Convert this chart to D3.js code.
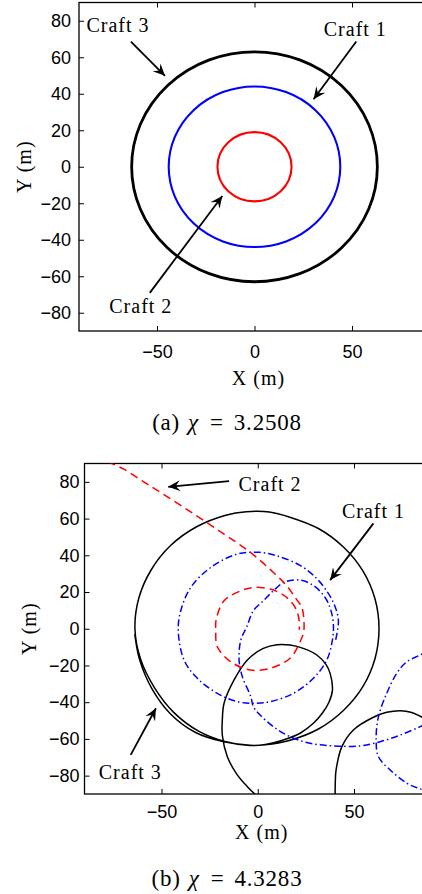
<!DOCTYPE html>
<html>
<head>
<meta charset="utf-8">
<script src="https://cdn.jsdelivr.net/npm/d3@7"></script>
<style>
  body { margin: 0; background: #fff; }
  .tick text { font-family: "Liberation Sans", Arial, sans-serif; font-size: 18px; fill: #000; }
  .lbl { font-family: "Liberation Serif", "Times New Roman", serif; font-size: 20px; letter-spacing: 1px; fill: #000; }
  .cap { font-family: "Liberation Serif", "Times New Roman", serif; font-size: 23px; letter-spacing: 0.8px; fill: #000; }
</style>
</head>
<body>
<svg id="fig" width="422" height="894"></svg>
<script>
const xTicks = [-50, 0, 50];
const yTicks = [-80, -60, -40, -20, 0, 20, 40, 60, 80];

// (a) chi = 3.2508 : every craft settles on a circle round the origin
const craftsA = ['Craft 1', 'Craft 2', 'Craft 3'];
const radiusA = [44, 19, 63];
const labelA = ['Craft 3', 'Craft 1', 'Craft 2'];
const labelAtA = [[-70, 74], [51.7, 71.8], [-58.3, -80.4]];
const arrowFromA = [[-63.4, 68.6], [52.2, 68.6], [-53.7, -69.1]];
const arrowToA = [[-45.9, 49.8], [30.3, 37], [-16.5, -16]];

// (b) chi = 4.3283 : trajectories, [x, y] in metres
const craft1B = [[40.5, -6], [41.9, 4.4], [40, 12.5], [36.5, 19.5], [30.5, 27.5], [22, 34.5], [10, 39.7],
  [1, 41.6], [-10.6, 40.7], [-24.4, 33.4], [-34.8, 22.5], [-40, 9.8], [-41.3, -1], [-38.3, -17],
  [-31.4, -27], [-21, -35.2], [-10.6, -39.7], [-1.9, -40.6], [6.4, -39.7], [18.5, -35.2], [28.9, -27],
  [35.9, -17], [38.8, -6], [39.3, 2], [38, 10], [35, 17], [29, 23.5], [22, 26.5], [14, 25.5], [8.1, 20.7],
  [2.9, 15.2], [-2.3, 9.8], [-5.7, 1.1], [-8.8, -6.1], [-9.7, -17], [-8, -26.1], [-3.6, -37],
  [-2.3, -42.4], [1.2, -47], [8.1, -53.3], [16.8, -58.8], [27.2, -62.4], [39.3, -63.8], [53.2, -63.8],
  [63.6, -61.5], [74, -57.9], [84.4, -53.3], [90, -50.5]];
const craft1BTail = [[90, -11], [84.4, -14.3], [77.4, -18], [72.2, -24.3], [67, -35.2], [62.7, -47.9],
  [61.5, -60.6], [62.7, -69.7], [68.8, -76.9], [77.4, -84.1], [83.5, -86.9], [90, -89]];
const craft2B = [[-78, 91], [-69.5, 86.9], [-60, 80.5], [-50.4, 74.2], [-33.1, 62.4], [-17.5, 51.5],
  [-3.8, 41.6], [9, 29.8], [15, 23.5], [19.4, 17.1], [22.9, 11.6], [24, 4], [23.8, -2], [21.6, -8],
  [16.8, -16.1], [6.4, -21.6], [-3.8, -22.5], [-14, -18], [-21, -9.8], [-21.8, -0.7], [-21.6, 5],
  [-17.5, 15.2], [-8.8, 20.7], [-2, 22.5], [6.4, 21.6], [13, 18.6], [17.5, 14.5], [20.3, 9.8],
  [21.5, 4.4], [21.6, -0.5]];
const craft3B = [[-0.5, -91], [-5.4, -86], [-11, -79], [-15.8, -69.7], [-18.4, -58], [-18.4, -49.7],
  [-17.5, -40.6], [-12.3, -27.9], [-5.4, -17], [2.9, -10.7], [10, -8.7], [16.8, -8.9], [24, -10.8],
  [30.7, -14.3], [35.5, -19.5], [37.6, -24.3], [38.8, -33.4], [37, -40], [33.5, -46], [28.9, -51.5],
  [22, -56.9], [12, -61], [4, -63], [-4, -63.6], [-17, -61.4], [-31, -55.6], [-43.8, -45.4],
  [-53.6, -32.2], [-60.8, -16.8], [-63.8, 0], [-61.8, 16.6], [-55.4, 32], [-45.3, 45.3], [-32, 55.4],
  [-16.6, 61.8], [-6, 63.7], [6, 63.6], [16.3, 60.9], [31.5, 54.6], [44.5, 44.5], [54.6, 31.5],
  [60.9, 16.3], [63, 0], [60.9, -16.3], [54.6, -31.5], [44.5, -44.5], [31.5, -54.6], [16.3, -60.9],
  [4, -63.2], [-4, -63.5], [-17.5, -61.6], [-32.3, -56.5], [-45.3, -46.4], [-55, -32.6], [-61.4, -16.8],
  [-63.9, -3]];
const craft3BTail = [[40.2, -91], [40.3, -83], [40.7, -76.9], [43.7, -64.2], [49.7, -55.1], [60.1, -48.2],
  [67, -45.5], [74, -44.6], [80, -45.6], [86, -48.5], [90, -51]];
const labelB = ['Craft 2', 'Craft 1', 'Craft 3'];
const labelAtB = [[6.4, 75.1], [60.1, 60.4], [-66.2, -82]];
const arrowFromB = [[-14.9, 80.4], [60.1, 57.4], [-66, -68.7]];
const arrowToB = [[-46.5, 77.3], [37.6, 26.5], [-52.9, -43.3]];

const svg = d3.select('#fig');

svg.append('defs').append('marker')
  .attr('id', 'head')
  .attr('markerUnits', 'userSpaceOnUse')
  .attr('viewBox', '-12 -6 13 12')
  .attr('refX', 0).attr('refY', 0)
  .attr('markerWidth', 13).attr('markerHeight', 12)
  .attr('orient', 'auto')
  .append('path')
  .attr('d', 'M0,0 L-12,-5.5 L-7.5,0 L-12,5.5 Z')
  .attr('fill', '#000');

const fmt = d => d < 0 ? '\u2212' + Math.abs(d) : d;

function makePanel(id, box) {
  const x = d3.scaleLinear().domain([-90, 90]).range([box.left, box.right]);
  const y = d3.scaleLinear().domain([-90, 90]).range([box.bottom, box.top]);
  const g = svg.append('g').attr('id', id);

  g.append('clipPath').attr('id', id + '-clip')
    .append('rect')
    .attr('x', box.left).attr('y', box.top)
    .attr('width', box.right - box.left).attr('height', box.bottom - box.top);

  // ticks point inwards on every side
  const yAxis = g.append('g').attr('transform', `translate(${box.left},0)`)
    .call(d3.axisLeft(y).tickValues(yTicks).tickSizeInner(-5).tickSizeOuter(0)
      .tickPadding(box.yPad).tickFormat(fmt));
  const xAxis = g.append('g').attr('transform', `translate(0,${box.bottom})`)
    .call(d3.axisBottom(x).tickValues(xTicks).tickSizeInner(-5).tickSizeOuter(0)
      .tickPadding(box.xPad).tickFormat(fmt));
  const xTop = g.append('g').attr('transform', `translate(0,${box.top})`)
    .call(d3.axisTop(x).tickValues(xTicks).tickSizeInner(-5).tickSizeOuter(0).tickFormat(''));
  [yAxis, xAxis, xTop].forEach(a => a.select('.domain').remove());
  xAxis.selectAll('.tick text').attr('dy', '0.72em');

  g.append('rect')
    .attr('x', box.left).attr('y', box.top)
    .attr('width', box.right - box.left).attr('height', box.bottom - box.top)
    .attr('fill', 'none').attr('stroke', '#000').attr('stroke-width', 1.3);

  g.append('text').attr('class', 'lbl')
    .attr('text-anchor', 'middle')
    .attr('x', x(0) + 4).attr('y', box.xLabelY)
    .text('X (m)');
  g.append('text').attr('class', 'lbl')
    .attr('text-anchor', 'middle')
    .attr('transform', `translate(${box.yLabelX},${y(0)}) rotate(-90)`)
    .text('Y (m)');

  const plot = g.append('g').attr('clip-path', `url(#${id}-clip)`);
  return { g, plot, x, y };
}

function caption(cx, cy, tag, value) {
  const t = svg.append('text').attr('class', 'cap')
    .attr('text-anchor', 'middle').attr('x', cx).attr('y', cy);
  t.append('tspan').text(tag);
  t.append('tspan').attr('dx', 8).attr('font-style', 'italic').text('\u03C7');
  t.append('tspan').attr('dx', 11).text('=');
  t.append('tspan').attr('dx', 10).text(value);
}

function annotate(p, labels, at, from, to) {
  labels.forEach((name, i) => {
    p.g.append('text').attr('class', 'lbl')
      .attr('text-anchor', 'middle')
      .attr('x', p.x(at[i][0])).attr('y', p.y(at[i][1]))
      .text(name);
    p.g.append('line')
      .attr('x1', p.x(from[i][0])).attr('y1', p.y(from[i][1]))
      .attr('x2', p.x(to[i][0])).attr('y2', p.y(to[i][1]))
      .attr('stroke', '#000').attr('stroke-width', 1.8)
      .attr('marker-end', 'url(#head)');
  });
}

// ---- panel (a)
const pa = makePanel('pa', { left: 79, right: 430, top: 2.5, bottom: 331,
  yPad: 8, xPad: 14, xLabelY: 385, yLabelX: 31 });
const colorsA = { 'Craft 1': '#0000ff', 'Craft 2': '#ff0000', 'Craft 3': '#000' };
const widthA = { 'Craft 1': 2.1, 'Craft 2': 2.1, 'Craft 3': 2.8 };
pa.plot.selectAll('ellipse')
  .data(craftsA)
  .join('ellipse')
  .attr('cx', pa.x(0)).attr('cy', pa.y(0))
  .attr('rx', (d, i) => pa.x(radiusA[i]) - pa.x(0))
  .attr('ry', (d, i) => pa.y(0) - pa.y(radiusA[i]))
  .attr('fill', 'none')
  .attr('stroke', d => colorsA[d])
  .attr('stroke-width', d => widthA[d]);
annotate(pa, labelA, labelAtA, arrowFromA, arrowToA);
caption(227, 430, '(a)', '3.2508');

// ---- panel (b)
const pb = makePanel('pb', { left: 84.5, right: 431, top: 463.5, bottom: 794,
  yPad: 5, xPad: 11, xLabelY: 839, yLabelX: 36 });
const line = d3.line()
  .x(d => pb.x(d[0]))
  .y(d => pb.y(d[1]))
  .curve(d3.curveCatmullRom.alpha(0.5));
const tracks = [
  { pts: craft3B, color: '#000', dash: null },
  { pts: craft3BTail, color: '#000', dash: null },
  { pts: craft1B, color: '#0000ff', dash: '7,3,1.5,3' },
  { pts: craft1BTail, color: '#0000ff', dash: '7,3,1.5,3' },
  { pts: craft2B, color: '#ff0000', dash: '8,5' }
];
pb.plot.selectAll('path.track')
  .data(tracks)
  .join('path')
  .attr('class', 'track')
  .attr('d', d => line(d.pts))
  .attr('fill', 'none')
  .attr('stroke', d => d.color)
  .attr('stroke-width', 1.5)
  .attr('stroke-dasharray', d => d.dash);
annotate(pb, labelB, labelAtB, arrowFromB, arrowToB);
caption(227, 886, '(b)', '4.3283');
</script>
</body>
</html>
